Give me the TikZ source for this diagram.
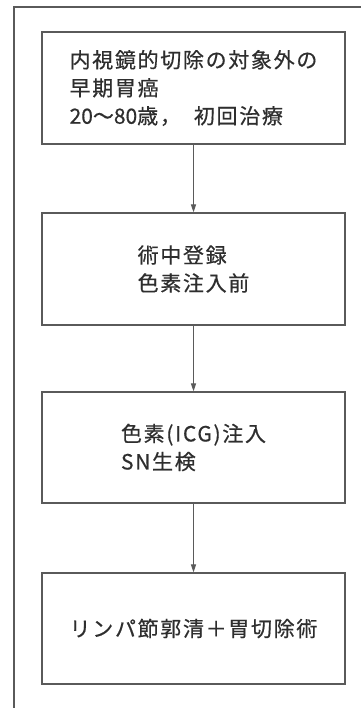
\documentclass[tikz,border=0pt]{standalone}
\usepackage{fontspec}
\setmainfont{Noto Sans CJK JP}[LetterSpace=8,FakeBold=0.5]
\newfontfamily\plainjp{Noto Sans CJK JP}[FakeBold=0.5]
\usetikzlibrary{arrows.meta}
\definecolor{ink}{HTML}{2E2E2E}
\definecolor{frame}{HTML}{5A5A5A}
\begin{document}
\begin{tikzpicture}[x=1pt,y=-1pt,
  stepbox/.style={draw=frame, line width=1.3pt, rectangle, minimum width=303pt,
    inner sep=0pt, align=left, text=ink, font=\fontsize{21}{28}\selectfont},
  flow/.style={draw=frame, line width=1.1pt, -{Triangle[width=5pt,length=8pt]}}]
\useasboundingbox (0,0) rectangle (360,708);
\fill[white] (0,0) rectangle (360,708);
% outer frame (partly visible)
\draw[frame, line width=1.2pt] (14,710) -- (14,7) -- (362,7);
\node[stepbox, minimum height=112pt] (b1) at (193.5,88)
  {内視鏡的切除の対象外の\\早期胃癌\\{\plainjp 20}～{\plainjp 80}歳，\hspace{13pt}初回治療};
\node[stepbox, minimum height=112pt] (b2) at (193.5,269)
  {術中登録\\色素注入前};
\node[stepbox, minimum height=111pt] (b3) at (193.5,447.5)
  {色素(ICG)注入\\SN生検};
\node[stepbox, minimum height=111pt] (b4) at (193.5,628.5)
  {リンパ節郭清＋胃切除術};
\draw[flow] (b1.south) -- (b2.north);
\draw[flow] (b2.south) -- (b3.north);
\draw[flow] (b3.south) -- (b4.north);
\end{tikzpicture}
\end{document}
